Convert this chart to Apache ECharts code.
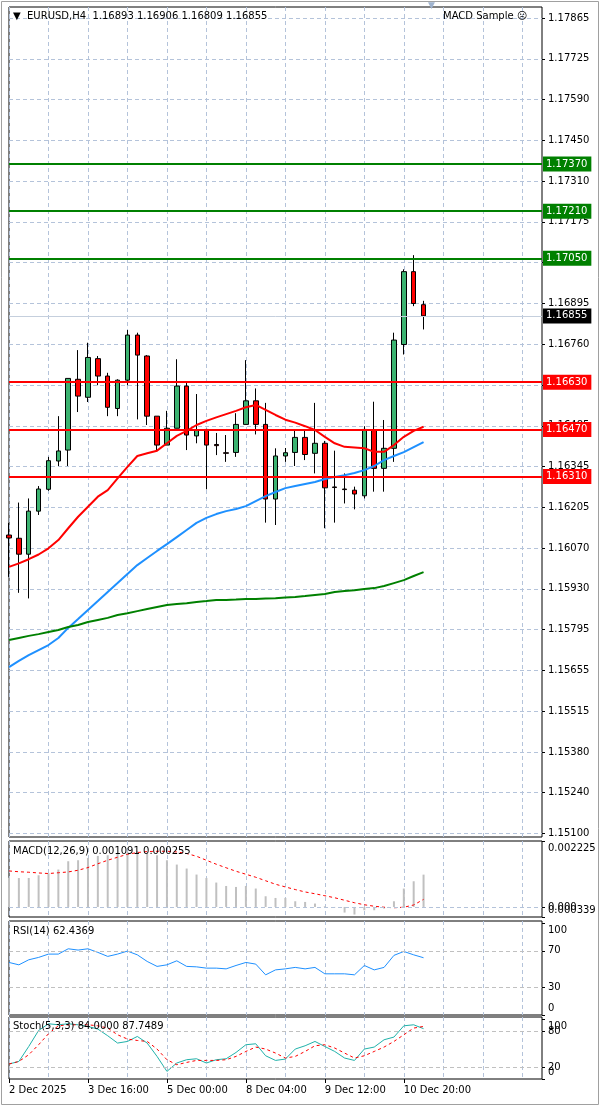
<!DOCTYPE html>
<html><head><meta charset="utf-8">
<script src="https://cdn.jsdelivr.net/npm/echarts@6/dist/echarts.min.js"></script>
<style>html,body{margin:0;padding:0;background:#fff}#c{width:600px;height:1106px}</style>
</head><body><div id="c"></div>
<script>
const symbolName = 'EURUSD,H4';
const expertName = 'MACD Sample ☹';
const categories = ['2 Dec 2025','2 Dec 12:00','2 Dec 16:00','2 Dec 20:00','3 Dec 00:00','3 Dec 04:00','3 Dec 08:00','3 Dec 12:00','3 Dec 16:00','3 Dec 20:00','4 Dec 00:00','4 Dec 04:00','4 Dec 08:00','4 Dec 12:00','4 Dec 16:00','4 Dec 20:00','5 Dec 00:00','5 Dec 04:00','5 Dec 08:00','5 Dec 12:00','5 Dec 16:00','5 Dec 20:00','7 Dec 20:00','8 Dec 00:00','8 Dec 04:00','8 Dec 08:00','8 Dec 12:00','8 Dec 16:00','8 Dec 20:00','9 Dec 00:00','9 Dec 04:00','9 Dec 08:00','9 Dec 12:00','9 Dec 16:00','9 Dec 20:00','10 Dec 00:00','10 Dec 04:00','10 Dec 08:00','10 Dec 12:00','10 Dec 16:00','10 Dec 20:00','11 Dec 00:00','11 Dec 04:00','11 Dec 08:00','11 Dec 12:00','11 Dec 16:00','11 Dec 20:00','12 Dec 00:00','12 Dec 04:00','12 Dec 08:00','12 Dec 12:00','12 Dec 16:00','12 Dec 20:00','14 Dec 20:00','15 Dec 00:00'];
const xTickLabels = ['2 Dec 2025','3 Dec 16:00','5 Dec 00:00','8 Dec 04:00','9 Dec 12:00','10 Dec 20:00'];
const priceTickLabels = ['1.15100','1.15240','1.15380','1.15515','1.15655','1.15795','1.15930','1.16070','1.16205','1.16345','1.16485','1.16625','1.16760','1.16895','1.17035','1.17175','1.17310','1.17450','1.17590','1.17725','1.17865'];

const opens  = [1.16112,1.16101,1.16047,1.16193,1.16267,1.16363,1.16400,1.16640,1.16579,1.16710,1.16651,1.16541,1.16637,1.16790,1.16719,1.16515,1.16417,1.16474,1.16617,1.16448,1.16470,1.16419,1.16391,1.16392,1.16487,1.16567,1.16487,1.16234,1.16380,1.16392,1.16443,1.16389,1.16423,1.16275,1.16268,1.16264,1.16245,1.16468,1.16338,1.16406,1.16758,1.17005,1.16893];
const highs  = [1.16153,1.16222,1.16236,1.16278,1.16377,1.16515,1.16643,1.16739,1.16764,1.16719,1.16662,1.16640,1.16807,1.16798,1.16722,1.16515,1.16533,1.16708,1.16628,1.16590,1.16472,1.16458,1.16451,1.16525,1.16705,1.16609,1.16560,1.16406,1.16407,1.16470,1.16470,1.16560,1.16431,1.16398,1.16321,1.16276,1.16481,1.16564,1.16502,1.16798,1.17013,1.17061,1.16906];
const lows   = [1.15970,1.15916,1.15897,1.16180,1.16262,1.16346,1.16346,1.16529,1.16563,1.16620,1.16515,1.16515,1.16620,1.16504,1.16485,1.16400,1.16417,1.16474,1.16400,1.16423,1.16267,1.16383,1.16360,1.16377,1.16487,1.16453,1.16154,1.16146,1.16360,1.16346,1.16366,1.16321,1.16135,1.16154,1.16219,1.16199,1.16236,1.16259,1.16259,1.16360,1.16724,1.16888,1.16809];
const closes = [1.16102,1.16047,1.16193,1.16268,1.16364,1.16397,1.16643,1.16583,1.16714,1.16651,1.16545,1.16637,1.16790,1.16722,1.16515,1.16417,1.16474,1.16617,1.16451,1.16468,1.16417,1.16415,1.16389,1.16487,1.16567,1.16487,1.16234,1.16380,1.16391,1.16443,1.16385,1.16423,1.16272,1.16273,1.16266,1.16251,1.16470,1.16338,1.16406,1.16773,1.17005,1.16897,1.16855];

const maRed   = [1.16004,1.16016,1.16030,1.16046,1.16067,1.16095,1.16135,1.16174,1.16208,1.16242,1.16264,1.16304,1.16343,1.16380,1.16389,1.16398,1.16423,1.16448,1.16465,1.16485,1.16499,1.16511,1.16522,1.16533,1.16545,1.16553,1.16536,1.16519,1.16503,1.16493,1.16481,1.16468,1.16445,1.16423,1.16411,1.16409,1.16406,1.16394,1.16394,1.16417,1.16445,1.16465,1.16479];
const maBlue  = [1.15664,1.15685,1.15705,1.15722,1.15739,1.15763,1.15797,1.15827,1.15858,1.15888,1.15919,1.15949,1.15980,1.16010,1.16034,1.16058,1.16081,1.16105,1.16129,1.16153,1.16170,1.16183,1.16193,1.16200,1.16210,1.16227,1.16244,1.16258,1.16271,1.16278,1.16285,1.16292,1.16302,1.16309,1.16315,1.16322,1.16332,1.16346,1.16366,1.16380,1.16393,1.16410,1.16427];
const maGreen = [1.15756,1.15763,1.15770,1.15776,1.15783,1.15790,1.15800,1.15807,1.15817,1.15824,1.15831,1.15841,1.15847,1.15854,1.15861,1.15868,1.15875,1.15878,1.15881,1.15885,1.15888,1.15892,1.15892,1.15893,1.15895,1.15895,1.15897,1.15898,1.15900,1.15902,1.15905,1.15909,1.15912,1.15919,1.15922,1.15925,1.15929,1.15932,1.15939,1.15949,1.15959,1.15973,1.15986];

const resistanceLevels = [1.17370, 1.17210, 1.17050];
const supportLevels = [1.16630, 1.16470, 1.16310];

const macdMain   = [0.000985,0.000975,0.000978,0.001069,0.001137,0.001262,0.001542,0.001576,0.001653,0.001721,0.001744,0.001802,0.001856,0.001879,0.001802,0.001744,0.001576,0.001430,0.001296,0.001093,0.000978,0.000823,0.000708,0.000675,0.000708,0.000621,0.000361,0.000304,0.000304,0.000192,0.000169,0.000115,0.000024,-0.000010,-0.000189,-0.000256,-0.000111,-0.000111,-0.000054,0.000192,0.000621,0.000867,0.001091];
const macdSignal = [0.001215,0.001188,0.001171,0.001147,0.001127,0.001154,0.001181,0.001238,0.001329,0.001457,0.001576,0.001677,0.001778,0.001835,0.001869,0.001879,0.001879,0.001856,0.001802,0.001710,0.001576,0.001441,0.001322,0.001204,0.001103,0.001002,0.000884,0.000766,0.000675,0.000587,0.000506,0.000445,0.000378,0.000310,0.000226,0.000142,0.000074,0.000024,-0.000010,-0.000027,-0.000010,0.000067,0.000255];
const macdRange = [-0.000339, 0.002225];
const macdZero = [0];

const rsi = [57.3,54.7,60.2,62.8,66.4,66.4,72.2,70.8,72.2,68.3,63.9,66.4,69.7,65.6,58.4,53.0,54.7,59.1,53.0,52.5,51.1,51.1,50.3,54.0,57.3,55.5,43.8,49.2,50.3,51.9,50.3,51.9,44.9,44.9,44.9,43.8,54.0,49.2,51.9,65.0,69.3,65.6,62.4369];
const rsiTicks = [0, 30, 70, 100];
const rsiLevels = [30, 70];

const stochMain   = [25.0,29.3,54.3,81.0,92.2,90.5,92.2,90.5,87.7,83.3,72.2,60.0,62.7,71.0,60.0,37.7,12.7,26.7,32.2,33.8,26.7,32.2,33.8,44.3,57.2,58.8,38.8,31.0,33.3,50.0,55.5,62.7,54.3,46.0,35.0,31.0,50.0,53.3,65.5,70.0,88.8,90.5,84.0];
const stochSignal = [25.0,29.3,40.5,57.2,75.5,88.8,90.5,90.5,90.5,88.8,85.0,73.8,66.7,64.3,62.7,50.0,32.2,23.8,27.7,31.0,31.0,31.0,32.2,37.7,46.0,53.3,50.0,43.3,35.0,37.7,46.0,55.5,57.2,51.7,43.3,35.0,38.8,46.0,53.3,62.7,73.8,85.0,87.7489];
const stochEnds = [0, 100];
const stochLevels = [20, 80];

const FONT = 'DejaVu Sans';
const GRIDC = '#b4c3da';
const DASH = [4, 3];
const last = closes.length - 1;
const tStyle = {fontSize: 10, fontWeight: 'normal', color: '#000', fontFamily: FONT};
const lbl = {fontSize: 10, color: '#000', fontFamily: FONT};

const candles = opens.map((o, i) => [o, closes[i], lows[i], highs[i]]);
const isTick = (idx, v) => xTickLabels.includes(v);

function panelGrid(top, bottom) {
  return {left: 9, right: 58, top: top, bottom: bottom, show: true, borderColor: '#000', borderWidth: 1,
          backgroundColor: 'transparent', containLabel: false, outerBoundsMode: 'none'};
}
function xAx(i, showLbl) {
  return {type: 'category', gridIndex: i, data: categories, boundaryGap: false,
    axisLine: {show: false},
    axisTick: {show: showLbl, interval: isTick, length: 4, lineStyle: {color: '#000'}},
    axisLabel: {show: showLbl, interval: isTick, align: 'left', margin: 6, ...lbl},
    splitLine: {show: i < 4, interval: (idx) => idx % 4 === 0, lineStyle: {color: GRIDC, type: DASH, width: 1}}};
}
function sideAxis(i, min, max, ticks, fmt) {
  return {type: 'value', gridIndex: i, min: min, max: max, position: 'right',
    axisLine: {show: false}, splitLine: {show: false},
    axisTick: {show: true, customValues: ticks, length: 3, lineStyle: {color: '#000'}},
    axisLabel: {customValues: ticks, formatter: fmt, margin: 6, hideOverlap: false, showMinLabel: true, showMaxLabel: true, ...lbl,
      rich: {d: {...lbl, padding: [15, 0, 0, 0]}, u: {...lbl, padding: [0, 0, 14, 0]}}}};
}
function levelLines(levels) {
  return {symbol: ['none', 'none'], silent: true, animation: false, label: {show: false},
    lineStyle: {color: '#c0c0c0', type: DASH, width: 1}, data: levels.map(v => ({yAxis: v}))};
}
const endFmt = v => v >= 100 ? '{d|' + v + '}' : (v <= 0 ? '{u|' + v + '}' : String(v));

const priceMarks = [
  ...resistanceLevels.map(v => ({yAxis: v, lineStyle: {color: '#008000', width: 2, type: 'solid'}, label: {backgroundColor: '#008000'}})),
  ...supportLevels.map(v => ({yAxis: v, lineStyle: {color: '#ff0000', width: 2, type: 'solid'}, label: {backgroundColor: '#ff0000'}})),
  {yAxis: closes[last], lineStyle: {color: '#c5cfdd', width: 1, type: 'solid'}, label: {backgroundColor: '#000'}}
];

const header = '▼  ' + symbolName + '  ' + [opens[last], highs[last], lows[last], closes[last]].map(v => v.toFixed(5)).join(' ');

const option = {
  animation: false,
  backgroundColor: '#fff',
  textStyle: {fontFamily: FONT},
  title: [
    {text: header, left: 13, top: 11, padding: 0, textStyle: tStyle},
    {text: expertName, left: 443, top: 11, padding: 0, textStyle: tStyle},
    {text: '▼', left: 428, top: 1, padding: 0, textStyle: {...tStyle, color: '#9fb3cf', fontSize: 9}},
    {text: 'MACD(12,26,9) ' + macdMain[last].toFixed(6) + ' ' + macdSignal[last].toFixed(6), left: 13, top: 846, padding: 0, textStyle: tStyle},
    {text: 'RSI(14) ' + rsi[last].toFixed(4), left: 13, top: 926, padding: 0, textStyle: tStyle},
    {text: 'Stoch(5,3,3) ' + stochMain[last].toFixed(4) + ' ' + stochSignal[last].toFixed(4), left: 13, top: 1021, padding: 0, textStyle: tStyle}
  ],
  graphic: [
    {type: 'rect', shape: {x: 1.5, y: 1.5, width: 597, height: 1103}, style: {fill: 'none', stroke: '#a0a0a0', lineWidth: 1}, silent: true}
  ],
  grid: [
    panelGrid(7, 269),
    panelGrid(841, 189),
    panelGrid(921, 91),
    panelGrid(1017, 27),
    {left: 9, right: 58, top: 18, bottom: 272.5, show: false, containLabel: false, outerBoundsMode: 'none'}
  ],
  xAxis: [xAx(0, false), xAx(1, false), xAx(2, false), xAx(3, true),
    {type: 'category', gridIndex: 4, data: categories, boundaryGap: false, show: false}],
  yAxis: [
    {type: 'value', gridIndex: 0, min: 1.150881, max: 1.179023, show: false},
    sideAxis(1, macdRange[0], macdRange[1], macdRange, v => v > 0 ? '{d|' + v.toFixed(6) + '}' : '{u|' + Math.abs(v).toFixed(6) + '}'),
    sideAxis(2, 0, 102.5, rsiTicks, endFmt),
    sideAxis(3, 0, 103.5, stochEnds, endFmt),
    {type: 'category', gridIndex: 4, data: priceTickLabels, boundaryGap: false, position: 'right',
      axisLine: {show: false},
      axisTick: {show: true, interval: 0, length: 3, lineStyle: {color: '#000'}},
      axisLabel: {interval: 0, margin: 6, hideOverlap: false, ...lbl},
      splitLine: {show: true, interval: 0, lineStyle: {color: GRIDC, type: DASH, width: 1}}},
    sideAxis(1, macdRange[0], macdRange[1], macdZero, v => v.toFixed(3)),
    sideAxis(3, 0, 103.5, stochLevels, endFmt)
  ],
  series: [
    {type: 'candlestick', xAxisIndex: 0, yAxisIndex: 0, data: candles, barWidth: 5, clip: true,
      itemStyle: {color: '#3cb371', color0: '#ff0000', borderColor: '#000', borderColor0: '#000', borderWidth: 1}},
    {type: 'line', xAxisIndex: 0, yAxisIndex: 0, data: maRed, symbol: 'none', z: 3, lineStyle: {color: '#ff0000', width: 2}},
    {type: 'line', xAxisIndex: 0, yAxisIndex: 0, data: maBlue, symbol: 'none', z: 3, lineStyle: {color: '#1e90ff', width: 2}},
    {type: 'line', xAxisIndex: 0, yAxisIndex: 0, data: maGreen, symbol: 'none', z: 3, lineStyle: {color: '#008000', width: 2},
      markLine: {symbol: ['none', 'none'], silent: true, animation: false, precision: 5,
        label: {show: true, position: 'end', distance: 1, color: '#fff', fontSize: 10, fontFamily: FONT,
          padding: [3, 4, 2, 3], formatter: p => Number(p.value).toFixed(5)},
        data: priceMarks}},
    {type: 'bar', xAxisIndex: 1, yAxisIndex: 1, data: macdMain, barWidth: 2, itemStyle: {color: '#c0c0c0'},
      markLine: {symbol: ['none', 'none'], silent: true, animation: false, label: {show: false},
        lineStyle: {color: GRIDC, type: DASH, width: 1}, data: [{yAxis: 0}]}},
    {type: 'line', xAxisIndex: 1, yAxisIndex: 1, data: macdSignal, symbol: 'none', lineStyle: {color: '#ff0000', width: 1, type: [3, 3]}},
    {type: 'line', xAxisIndex: 2, yAxisIndex: 2, data: rsi, symbol: 'none', lineStyle: {color: '#1e90ff', width: 1},
      markLine: levelLines(rsiLevels)},
    {type: 'line', xAxisIndex: 3, yAxisIndex: 3, data: stochMain, symbol: 'none', lineStyle: {color: '#20b2aa', width: 1},
      markLine: levelLines(stochLevels)},
    {type: 'line', xAxisIndex: 3, yAxisIndex: 3, data: stochSignal, symbol: 'none', lineStyle: {color: '#ff0000', width: 1, type: [3, 3]}}
  ]
};
const chart = echarts.init(document.getElementById('c'), null, {renderer: 'canvas'});
chart.setOption(option);
</script></body></html>
